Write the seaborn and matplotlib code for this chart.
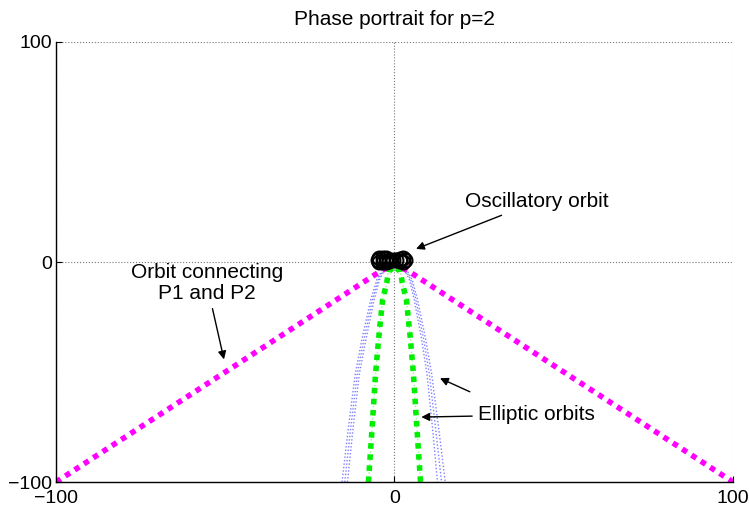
import matplotlib
matplotlib.use("Agg")
import matplotlib.pyplot as plt
import seaborn as sns

sns.set_style("white")
plt.rcParams["font.family"] = ["Liberation Sans", "DejaVu Sans"]
plt.rcParams["text.color"] = "black"
plt.rcParams["xtick.color"] = "black"
plt.rcParams["ytick.color"] = "black"

# orbit connecting P1 and P2 (magenta)
conn_x = [-100, -75, -50, -25, -12, -5, -1, 1, 5, 12, 25, 50, 75, 100]
conn_y = [-100, -75, -50, -25, -12, -5, -1.5, -1.5, -5, -12, -25, -50, -75, -100]

# elliptic orbits (green, thick)
ell_x = [-7.7, -6.6, -5.6, -4.7, -3.5, -2.3, -1.8, 0, 1.8, 2.3, 3.5, 4.7, 5.6, 6.6, 7.7]
ell_y = [-100, -75, -51, -35, -17, -9.5, -4.5, -2, -4.5, -9.5, -17, -35, -51, -75, -100]

# elliptic orbits (blue, thin), three neighbouring curves
blue_y = [-100, -75, -51, -35, -17, -8, -3, -1, -3, -8, -17, -35, -51, -75, -100]
blue_x1 = [-13.9, -12.2, -10.4, -8.4, -6.0, -4.4, -2.8, 0, 2.8, 4.4, 5.8, 8.0, 9.6, 11.2, 12.7]
blue_x2 = [-14.7, -12.9, -11.0, -9.0, -6.5, -4.8, -3.1, 0, 3.1, 4.8, 6.3, 8.6, 10.3, 12.1, 13.9]
blue_x3 = [-15.5, -13.6, -11.6, -9.6, -7.0, -5.2, -3.4, 0, 3.4, 5.2, 6.8, 9.2, 11.0, 13.0, 15.0]

# oscillatory orbit (black circles)
osc_x = [-5.0, -4.5, -3.5, -2.5, -1.5, -0.5, 0.5, 1.5, 2.5, 3.2, 2.5, 1.5, -1.5, -2.5, -3.5, -4.5]
osc_y = [0.8, 1.6, 1.9, 1.6, 1.0, 0.8, 0.8, 1.2, 1.6, 0.8, 0.0, 0.3, 0.3, 0.0, -0.2, 0.0]

fig = plt.figure(figsize=(7.49, 5.09), dpi=100)
ax = fig.add_axes([0.0748, 0.053, 0.9038, 0.8645])

for bx in [blue_x1, blue_x2, blue_x3]:
    sns.lineplot(x=bx, y=blue_y, sort=False, ax=ax, color="#5555ff",
                 linewidth=1.0, linestyle=(0, (1, 1.5)), alpha=0.75)
# faint companion of the green orbit
sns.lineplot(x=ell_x, y=ell_y, sort=False, ax=ax, color="#99ee99",
             linewidth=1.0, linestyle=(0, (1, 2)))
sns.lineplot(x=ell_x, y=ell_y, sort=False, ax=ax, color="#00ee00",
             linewidth=4, linestyle=(0, (1, 1)))
sns.lineplot(x=conn_x, y=conn_y, sort=False, ax=ax, color="#ff00ff",
             linewidth=4, linestyle=(0, (1, 1)))
ax.plot(osc_x, osc_y, "o", markersize=10, markerfacecolor="none",
        markeredgecolor="black", markeredgewidth=1.5)

ax.set_xlim(-100, 100)
ax.set_ylim(-100, 100)
ax.set_xticks([-100, 0, 100])
ax.set_yticks([-100, 0, 100])
ax.tick_params(direction="in", labelsize=14, length=4, left=True, bottom=True,
               colors="black")
ax.tick_params(axis="x", pad=6)
ax.tick_params(axis="y", pad=3)
ax.grid(True, linestyle=":", color="#777777", linewidth=0.8)
ax.set_axisbelow(True)
for s in ["top", "right"]:
    ax.spines[s].set_visible(False)
for s in ["left", "bottom"]:
    ax.spines[s].set_color("black")
    ax.spines[s].set_linewidth(1)

ax.set_title("Phase portrait for p=2", fontsize=15, pad=12, color="black")

arrow = dict(arrowstyle="-|>", color="black", linewidth=1, mutation_scale=12)
ax.annotate("Oscillatory orbit", xy=(5.6, 5.5), xytext=(42, 27.5),
            fontsize=15, ha="center", va="center", arrowprops=arrow)
ax.annotate("Orbit connecting\nP1 and P2", xy=(-50.2, -45.5), xytext=(-55.5, -9.5),
            fontsize=15, ha="center", va="center", arrowprops=arrow,
            linespacing=1.1)
ax.annotate("", xy=(12.7, -52.3), xytext=(23, -59.5), arrowprops=arrow)
ax.annotate("Elliptic orbits", xy=(7.1, -70.5), xytext=(42, -69.5),
            fontsize=15, ha="center", va="center", arrowprops=arrow)

fig.savefig("out.png", dpi=100)
